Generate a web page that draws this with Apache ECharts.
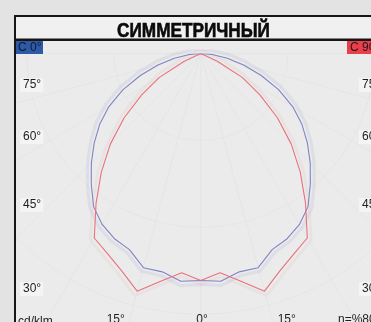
<!DOCTYPE html>
<html>
<head>
<meta charset="utf-8">
<script src="https://cdn.jsdelivr.net/npm/echarts@6/dist/echarts.min.js"></script>
<style>html,body{margin:0;padding:0;background:#e3e3e3;}#c{width:371px;height:322px;}</style>
</head>
<body>
<div id="c"></div>
<script>
// ---- data (cd/klm) ----
var gammaAngles = [0, 5, 10, 15, 20, 25, 30, 35, 40, 45, 50, 55, 60, 65, 70, 75, 80, 85, 90];
var c0Values  = [261, 263, 255, 255, 240, 235, 227, 215, 196, 178, 160, 142, 122, 99, 74, 51, 31, 13, 0];
var c90Values = [261, 253, 266, 283, 266, 254, 245, 210, 178, 147, 115, 83, 55, 21, 0, 0, 0, 0, 0];
var titleText = 'СИММЕТРИЧНЫЙ';
var planeLabels = ['C 0°', 'C 90°'];
var sideLabels = ['75°', '60°', '45°', '30°'];
var bottomLabels = ['15°', '0°', '15°'];
var unitLabel = 'cd/klm';
var effLabel = 'η=%80';

function mirror(vals) {
  var out = [];
  for (var i = gammaAngles.length - 1; i >= 1; i--) out.push([vals[i], -gammaAngles[i]]);
  for (var j = 0; j < gammaAngles.length; j++) out.push([vals[j], gammaAngles[j]]);
  return out;
}

var FONT = '"Liberation Sans", Arial, sans-serif';
var cx = 200.8, cy = 53.5, R = 347.8;

var chart = echarts.init(document.getElementById('c'), null, {renderer: 'canvas'});

var gridCol = 'rgba(210,210,210,0.22)';
var elements = [
  {type: 'rect', shape: {x: 0, y: 0, width: 371, height: 15}, style: {fill: '#e3e3e3'}, z: 50},
  {type: 'rect', shape: {x: 0, y: 0, width: 14, height: 322}, style: {fill: '#e3e3e3'}, z: 50},
  {type: 'rect', shape: {x: 16, y: 17, width: 355, height: 22}, style: {fill: '#f0f0f0'}, z: 50},
  {type: 'rect', shape: {x: 14, y: 15, width: 357, height: 2}, style: {fill: '#161616'}, z: 51},
  {type: 'rect', shape: {x: 14, y: 15, width: 2, height: 307}, style: {fill: '#161616'}, z: 51},
  {type: 'rect', shape: {x: 14, y: 38.5, width: 357, height: 2.5}, style: {fill: '#161616'}, z: 51},
  {type: 'text', x: 193.5, y: 31, scaleX: 0.86, z: 52, style: {text: titleText, fill: '#0a0a0a', font: 'bold 20px "Liberation Sans Narrow", "Liberation Sans", sans-serif', textAlign: 'center', textVerticalAlign: 'middle', stroke: '#0a0a0a', lineWidth: 0.6}},
  {type: 'rect', shape: {x: 16, y: 41, width: 27, height: 13}, style: {fill: '#2d5aa6'}, z: 52},
  {type: 'text', x: 18, y: 48, z: 53, style: {text: planeLabels[0], fill: '#15172a', font: '12px ' + FONT, textVerticalAlign: 'middle'}},
  {type: 'rect', shape: {x: 347, y: 41, width: 30, height: 13}, style: {fill: '#e8404a'}, z: 52},
  {type: 'text', x: 350, y: 48, z: 53, style: {text: planeLabels[1], fill: '#2a1416', font: '12px ' + FONT, textVerticalAlign: 'middle'}}
];
var sideY = [85, 137, 205, 289];
sideLabels.forEach(function (t, i) {
  elements.push({type: 'text', x: 20, y: sideY[i], z: 53, style: {text: t, fill: '#1e1e1e', font: '12px ' + FONT, textVerticalAlign: 'middle', backgroundColor: '#f4f4f4', padding: [1, 2, 1, 3]}});
  elements.push({type: 'text', x: 359, y: sideY[i], z: 53, style: {text: t, fill: '#1e1e1e', font: '12px ' + FONT, textVerticalAlign: 'middle', backgroundColor: '#f4f4f4', padding: [1, 2, 1, 3]}});
});
var bottomX = [115.7, 202, 286.7];
bottomLabels.forEach(function (t, i) {
  elements.push({type: 'text', x: bottomX[i], y: 314, z: 53, style: {text: t, fill: '#1e1e1e', font: '12px ' + FONT, textAlign: 'center', textVerticalAlign: 'top'}});
});
elements.push({type: 'text', x: 18, y: 315.5, z: 53, style: {text: unitLabel, fill: '#1e1e1e', font: '12px ' + FONT, textVerticalAlign: 'top'}});
elements.push({type: 'text', x: 338, y: 314, z: 53, style: {text: effLabel, fill: '#1e1e1e', font: '12px ' + FONT, textVerticalAlign: 'top'}});

function ghost(vals, col) {
  return {type: 'line', coordinateSystem: 'polar', polarIndex: 1, data: mirror(vals), symbol: 'none', silent: true,
    lineStyle: {color: col, width: 3, shadowColor: col, shadowBlur: 3}, z: 1, animation: false};
}

chart.setOption({
  animation: false,
  backgroundColor: '#ebebeb',
  polar: [
    {center: [cx, cy], radius: R},
    {center: [cx, cy - 3.9], radius: R * 1.035}
  ],
  angleAxis: [
    {polarIndex: 0, type: 'value', min: -90, max: 90, interval: 15, startAngle: 180, endAngle: 360, clockwise: false,
      axisLine: {show: false}, axisTick: {show: false}, axisLabel: {show: false},
      splitLine: {show: true, lineStyle: {color: gridCol, width: 1}}},
    {polarIndex: 1, type: 'value', min: -90, max: 90, startAngle: 180, endAngle: 360, clockwise: false,
      axisLine: {show: false}, axisTick: {show: false}, axisLabel: {show: false}, splitLine: {show: false}}
  ],
  radiusAxis: [
    {polarIndex: 0, type: 'value', min: 0, max: 400, interval: 100,
      axisLine: {show: false}, axisTick: {show: false}, axisLabel: {show: false},
      splitLine: {show: true, lineStyle: {color: gridCol, width: 1}}},
    {polarIndex: 1, type: 'value', min: 0, max: 400,
      axisLine: {show: false}, axisTick: {show: false}, axisLabel: {show: false}, splitLine: {show: false}}
  ],
  series: [
    ghost(c0Values, 'rgba(150,150,200,0.14)'),
    ghost(c90Values, 'rgba(225,160,170,0.09)'),
    {name: 'C 0°', type: 'line', coordinateSystem: 'polar', polarIndex: 0, data: mirror(c0Values), symbol: 'none',
      lineStyle: {color: '#7f84c6', width: 1.1}, z: 3},
    {name: 'C 90°', type: 'line', coordinateSystem: 'polar', polarIndex: 0, data: mirror(c90Values), symbol: 'none',
      lineStyle: {color: '#e8717b', width: 1.1}, z: 4}
  ],
  graphic: {elements: elements}
});
</script>
</body>
</html>
